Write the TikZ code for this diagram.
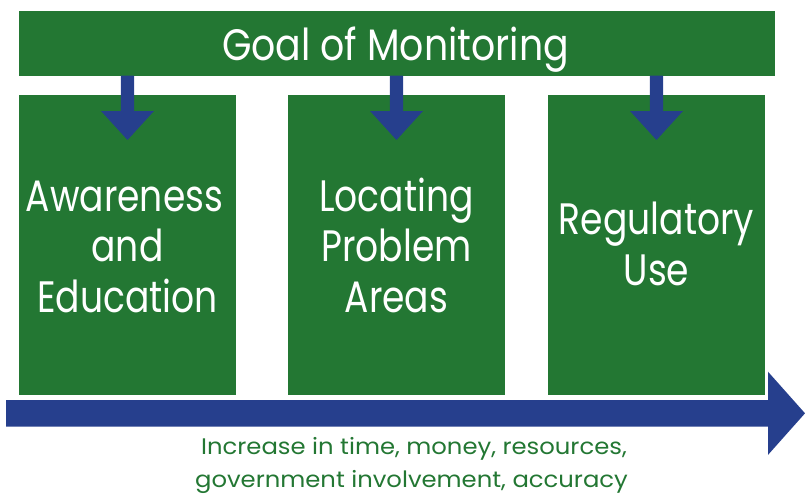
\documentclass[tikz,border=0pt]{standalone}
\usepackage{fontspec}
\setmainfont{Poppins}[FakeStretch=0.82]
\newfontfamily\headfont{Poppins}[FakeStretch=0.86]
\newfontfamily\capfont{Poppins}[FakeStretch=1.08]
\usetikzlibrary{calc}
\definecolor{mongreen}{RGB}{35,119,51}
\definecolor{monblue}{RGB}{38,63,141}
\begin{document}
\begin{tikzpicture}[x=1pt,y=-1pt,
  panel/.style={fill=mongreen, draw=none, inner sep=0pt, outer sep=0pt, anchor=north west},
  bigtxt/.style={text=white, font=\fontsize{44}{50}\selectfont, anchor=base, inner sep=0pt},
  notetxt/.style={text=mongreen, font=\capfont\fontsize{22.5}{32}\selectfont, anchor=base, inner sep=0pt}
]
\useasboundingbox (0,0) rectangle (805,495);

% header bar
\node[panel, minimum width=756pt, minimum height=64.7pt] (goal) at (19,11) {};
\node[bigtxt, font=\headfont\fontsize{44}{50}\selectfont] (goaltxt) at (395.5,60) {Goal of Monitoring};

% three category boxes
\node[panel, minimum width=217pt, minimum height=299.5pt] (b1) at (19,95) {};
\node[panel, minimum width=217pt, minimum height=299.5pt] (b2) at (288,95) {};
\node[panel, minimum width=217pt, minimum height=299.5pt] (b3) at (548,95) {};

\node[bigtxt] (b1l1) at (124.5,211) {Awareness};
\node[bigtxt] (b1l2) at (127.5,261) {and};
\node[bigtxt] (b1l3) at (127.5,312) {Education};

\node[bigtxt] (b2l1) at (396.5,211) {Locating};
\node[bigtxt] (b2l2) at (396.5,261) {Problem};
\node[bigtxt] (b2l3) at (396.5,312) {Areas};

\node[bigtxt] (b3l1) at (656.5,234) {Regulatory};
\node[bigtxt] (b3l2) at (656.5,285) {Use};

% block arrows from the header into each box
\foreach \b in {b1,b2,b3} {
  \coordinate (s) at (goal.south -| \b.north);
  \fill[monblue] ($(s)+(-6.7,0)$) -- ($(s)+(6.7,0)$) -- ($(s)+(6.7,35.5)$)
    -- ($(s)+(26.3,35.5)$) -- ($(s)+(0,64.3)$) -- ($(s)+(-26.3,35.5)$)
    -- ($(s)+(-6.7,35.5)$) -- cycle;
}

% long horizontal arrow
\coordinate (tail) at (6,413.3);
\coordinate (tip) at (805,413.3);
\fill[monblue] ($(tail)+(0,-13.3)$) -- ($(tip)+(-37,-13.3)$) -- ($(tip)+(-37,-41.6)$)
  -- (tip) -- ($(tip)+(-37,41.6)$) -- ($(tip)+(-37,13.3)$) -- ($(tail)+(0,13.3)$) -- cycle;

% caption under the arrow
\node[notetxt] (n1) at (414,454) {Increase in time, money, resources,};
\node[notetxt] (n2) at (411.5,487) {government involvement, accuracy};
\end{tikzpicture}
\end{document}
